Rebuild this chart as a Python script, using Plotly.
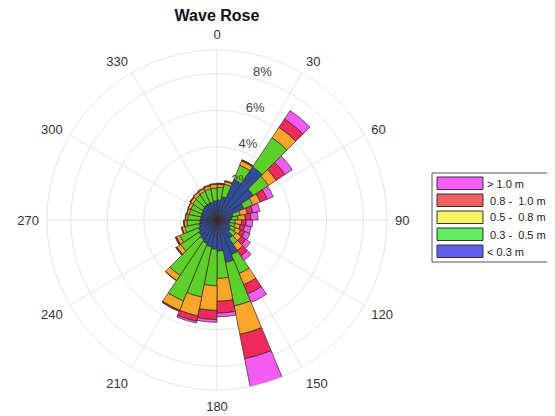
import plotly.graph_objects as go

# ---- data (percent of occurrences per 11.25 deg sector, by wave height class) ----
directions = [5.625 + 11.25 * k for k in range(32)]
lt03 = [1.1, 1.3, 2.4, 3.5, 2.4, 1.6, 0.9, 0.8, 0.7, 0.7, 0.8, 0.9, 1.2, 2.05, 2.37, 1.7,
        1.6, 1.5, 1.4, 1.3, 1.2, 1.1, 1.0, 0.95, 0.9, 0.9, 0.9, 0.95, 1.0, 1.0, 1.0, 1.05]
h03_05 = [0.7, 0.7, 0.85, 1.92, 0.99, 0.52, 0.4, 0.35, 0.3, 0.3, 0.3, 0.35, 0.4, 1.12, 2.42, 1.5,
          2.0, 2.8, 3.4, 2.35, 1.2, 1.1, 0.8, 0.7, 0.7, 0.65, 0.65, 0.65, 0.65, 0.7, 0.75, 0.7]
h05_08 = [0.15, 0.15, 0.25, 0.68, 0.51, 0.45, 0.4, 0.4, 0.35, 0.3, 0.3, 0.35, 0.4, 0.66, 1.59, 1.25,
          1.35, 1.05, 0.55, 0.33, 0.25, 0.2, 0.15, 0.15, 0.12, 0.13, 0.15, 0.15, 0.17, 0.15, 0.15, 0.2]
h08_10 = [0.05, 0.05, 0.05, 0.56, 0.57, 0.41, 0.3, 0.3, 0.25, 0.25, 0.25, 0.3, 0.35, 0.55, 1.36, 0.65,
          0.5, 0.3, 0.05, 0.02, 0.05, 0.05, 0.05, 0.02, 0.03, 0.02, 0.02, 0.03, 0.03, 0.05, 0.05, 0.05]
gt10 = [0.02, 0.0, 0.02, 0.54, 0.49, 0.35, 0.4, 0.4, 0.35, 0.35, 0.3, 0.3, 0.3, 0.5, 1.56, 0.2,
        0.15, 0.1, 0.02, 0.0, 0.02, 0.02, 0.0, 0.01, 0.0, 0.0, 0.0, 0.02, 0.0, 0.0, 0.0, 0.0]

class_labels = ["> 1.0 m", " 0.8 -  1.0 m", " 0.5 -  0.8 m", " 0.3 -  0.5 m", "< 0.3 m"]
radial_ticks = [2, 4, 6, 8]
angle_ticks = list(range(0, 360, 30))

bar_colors = ["#2c4e9c", "#5ccf2a", "#f9a62b", "#ee2a5e", "#f25cf0"]  # inner -> outer
legend_colors = ["#f75cf5", "#f56060", "#f5f560", "#60ee60", "#6060f0"]  # legend order (top->bottom)

# page body has an 8px margin: figure is sized so that it ends at the window edge
W, H, OFF = 547, 408, 8


def px(x):
    return (x - OFF) / W


def py(y):
    return 1 - (y - OFF) / H


fig = go.Figure()
series = [lt03, h03_05, h05_08, h08_10, gt10]
for vals, col in zip(series, bar_colors):
    fig.add_trace(go.Barpolar(
        r=vals, theta=directions, width=[11.25] * len(directions),
        marker=dict(color=col, line=dict(color="#3a2a20", width=0.7)),
        showlegend=False, hoverinfo="skip",
    ))

grid = "#e4e4e4"
cx, cy, R = 217, 220, 170
fig.update_layout(
    width=W, height=H,
    margin=dict(l=0, r=0, t=0, b=0),
    paper_bgcolor="white",
    font=dict(family="Liberation Sans, Arial, sans-serif", color="#333333", size=12),
    polar=dict(
        domain=dict(x=[px(cx - R), px(cx + R)], y=[py(cy + R), py(cy - R)]),
        bgcolor="white",
        barmode="stack",
        angularaxis=dict(
            rotation=90, direction="clockwise",
            tickmode="array", tickvals=angle_ticks, ticktext=[str(a) for a in angle_ticks],
            showgrid=True, gridcolor=grid, gridwidth=1,
            showline=True, linecolor=grid, linewidth=1,
            ticks="outside", ticklen=5, tickcolor="rgba(0,0,0,0)",
            tickfont=dict(size=13, color="#333333"),
        ),
        radialaxis=dict(
            range=[0, 9.3], angle=78.5, side="clockwise", layer="above traces",
            tickmode="array", tickvals=radial_ticks,
            ticktext=[f"{v}%<br>&nbsp;" for v in radial_ticks],
            showgrid=True, gridcolor=grid, gridwidth=1,
            showline=False, ticks="",
            tickfont=dict(size=13, color="#444444"),
            tickangle=78.5,
        ),
    ),
    title=dict(text="<b>Wave Rose</b>", x=px(217), xanchor="center", y=py(15), yanchor="middle",
               font=dict(size=16, color="#111111")),
)

# legend box (drawn manually to mimic the wide swatches)
fig.add_shape(type="rect", xref="paper", yref="paper",
              x0=px(432), x1=px(570), y0=py(262), y1=py(173),
              line=dict(color="#555555", width=1), fillcolor="white")
row_h = 17
for i, (lab, col) in enumerate(zip(class_labels, legend_colors)):
    top = 177 + i * row_h
    fig.add_shape(type="rect", xref="paper", yref="paper",
                  x0=px(437), x1=px(483), y0=py(top + 12.5), y1=py(top),
                  line=dict(color="#333333", width=1), fillcolor=col)
    fig.add_annotation(x=px(485), y=py(top + 6.5), xref="paper", yref="paper",
                       text=lab.replace(" ", "&nbsp;"), showarrow=False, xanchor="left", yanchor="middle",
                       font=dict(size=11, color="#222222"))

fig.write_html("out.html")
